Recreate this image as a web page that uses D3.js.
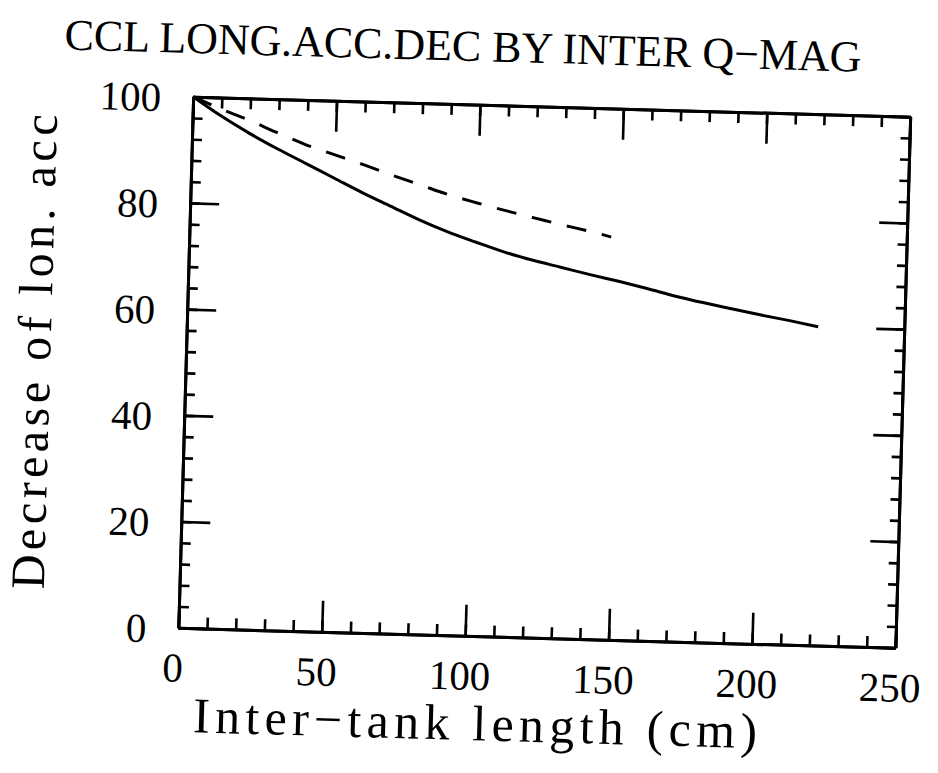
<!DOCTYPE html>
<html><head><meta charset="utf-8">
<script src="https://cdn.jsdelivr.net/npm/d3@7"></script>
<style>
html,body{margin:0;padding:0;background:#fff;}
text{font-family:"Liberation Serif","DejaVu Serif",serif;fill:#000;}
</style></head>
<body>
<div id="chart"></div>
<script>
const titleText = "CCL LONG.ACC.DEC BY INTER Q\u2212MAG";
const xTitle = "Inter\u2212tank length (cm)";
const yTitle = "Decrease of lon. acc";

const xMajorTicks = [0, 50, 100, 150, 200, 250];
const yMajorTicks = [0, 20, 40, 60, 80, 100];

const solidX = [0,10,20,30,40,50,60,70,80,90,100,110,120,130,140,150,160,170,180,190,200,210,220];
const solidY = [100,96.5,93.4,90.6,88.0,85.4,82.8,80.4,78.0,75.9,74.1,72.4,71.0,69.8,68.6,67.5,66.3,65.0,63.9,62.9,61.9,61.0,60.0];

const dashX = [0,10,20,30,40,50,60,70,80,90,100,110,120,130,140,147];
const dashY = [100,97.8,95.8,93.6,91.5,89.8,88.1,86.3,84.6,82.9,81.5,80.2,79.0,77.8,76.7,75.8];

const W = 938, H = 773;
const rot = 1.6, cx = 544.25, cy = 372.25;
const pLeft = 185.6, pRight = 902.9, pTop = 106.6, pBottom = 637.9;

const svg = d3.select("#chart").append("svg").attr("width", W).attr("height", H);
const g = svg.append("g").attr("transform", `rotate(${rot},${cx},${cy})`);

const x = d3.scaleLinear().domain([0, 250]).range([pLeft, pRight]);
const y = d3.scaleLinear().domain([0, 100]).range([pBottom, pTop]);

const xMinor = d3.range(0, 251, 10);
const yMinor = d3.range(0, 101, 4);

function styleAxis(sel) {
  sel.select(".domain").attr("stroke", "#000").attr("stroke-width", 3);
  sel.selectAll(".tick line").attr("stroke", "#000").attr("stroke-width", 2.6);
}

// minor ticks
g.append("g").attr("transform", `translate(0,${pBottom})`)
  .call(d3.axisBottom(x).tickValues(xMinor).tickSize(-11).tickSizeOuter(0).tickFormat(""))
  .call(styleAxis);
g.append("g").attr("transform", `translate(0,${pTop})`)
  .call(d3.axisTop(x).tickValues(xMinor).tickSize(-11).tickSizeOuter(0).tickFormat(""))
  .call(styleAxis);
g.append("g").attr("transform", `translate(${pLeft},0)`)
  .call(d3.axisLeft(y).tickValues(yMinor).tickSize(-10).tickSizeOuter(0).tickFormat(""))
  .call(styleAxis);
g.append("g").attr("transform", `translate(${pRight},0)`)
  .call(d3.axisRight(y).tickValues(yMinor).tickSize(-9).tickSizeOuter(0).tickFormat(""))
  .call(styleAxis);

// major ticks with labels
const xb = g.append("g").attr("transform", `translate(0,${pBottom})`)
  .call(d3.axisBottom(x).tickValues(xMajorTicks).tickSize(-31).tickSizeOuter(0).tickPadding(26).tickFormat(d3.format("d")))
  .call(styleAxis);
xb.selectAll(".tick text").attr("font-size", 41).attr("font-family", "Liberation Serif")
  .attr("dy", "0.68em").attr("dx", -5);
g.append("g").attr("transform", `translate(0,${pTop})`)
  .call(d3.axisTop(x).tickValues(xMajorTicks).tickSize(-31).tickSizeOuter(0).tickFormat(""))
  .call(styleAxis);
const yl = g.append("g").attr("transform", `translate(${pLeft},0)`)
  .call(d3.axisLeft(y).tickValues(yMajorTicks).tickSize(-29).tickSizeOuter(0).tickPadding(32).tickFormat(d3.format("d")))
  .call(styleAxis);
yl.selectAll(".tick text").attr("font-size", 41).attr("font-family", "Liberation Serif")
  .attr("dy", "0.36em");
g.append("g").attr("transform", `translate(${pRight},0)`)
  .call(d3.axisRight(y).tickValues(yMajorTicks).tickSize(-28).tickSizeOuter(0).tickFormat(""))
  .call(styleAxis);

// curves
const line = d3.line().x(d => x(d[0])).y(d => y(d[1])).curve(d3.curveMonotoneX);
g.append("path").datum(d3.zip(solidX, solidY)).attr("d", line)
  .attr("fill", "none").attr("stroke", "#000").attr("stroke-width", 3);
g.append("path").datum(d3.zip(dashX, dashY)).attr("d", line)
  .attr("fill", "none").attr("stroke", "#000").attr("stroke-width", 3)
  .attr("stroke-dasharray", "20,16");

// titles
g.append("text").attr("x", 454).attr("y", 63).attr("text-anchor", "middle")
  .attr("font-size", 44).attr("textLength", 797).attr("lengthAdjust", "spacing")
  .text(titleText);
g.append("text").attr("x", 485).attr("y", 742).attr("text-anchor", "middle")
  .attr("font-size", 50).attr("textLength", 564).attr("lengthAdjust", "spacing")
  .text(xTitle);
g.append("text").attr("transform", `translate(50,366) rotate(-90)`).attr("text-anchor", "middle")
  .attr("font-size", 48).attr("textLength", 475).attr("lengthAdjust", "spacing")
  .text(yTitle);
</script>
</body></html>
